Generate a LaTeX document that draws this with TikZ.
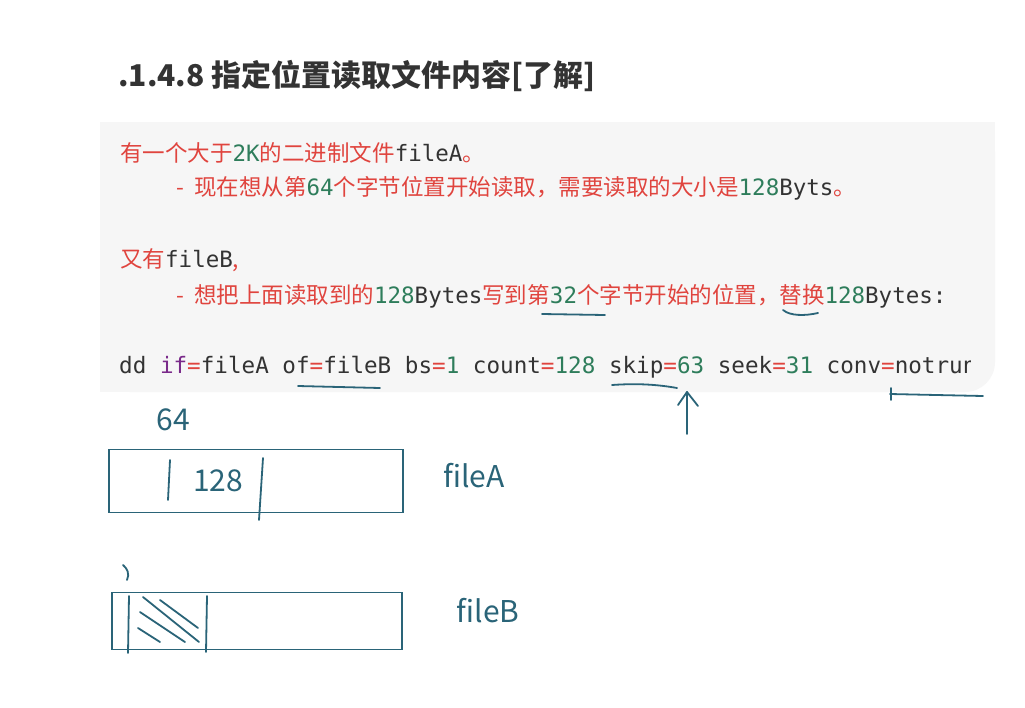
\documentclass[tikz,border=0pt]{standalone}
\usepackage{fontspec}
\setmainfont{Noto Sans CJK SC}
\newfontfamily\cjk{Noto Sans CJK SC}
\newfontfamily\mono{DejaVu Sans Mono}
\definecolor{rd}{HTML}{E0443E}
\definecolor{gn}{HTML}{2E7D5B}
\definecolor{pu}{HTML}{7A2A8A}
\definecolor{tx}{HTML}{333333}
\definecolor{ink}{HTML}{2A6478}
\definecolor{bg}{HTML}{F6F6F6}
\newcommand{\R}[1]{\textcolor{rd}{\cjk #1}}
\newcommand{\G}[1]{\textcolor{gn}{\mono #1}}
\newcommand{\M}[1]{\textcolor{tx}{\mono #1}}
\tikzset{ink/.style={draw=ink,line width=1.8pt,line cap=round,line join=round},
 lbl/.style={anchor=west,inner sep=0pt,font=\fontsize{22.5}{22.5}\selectfont},
 hand/.style={text=ink,inner sep=0pt,font=\fontsize{30}{30}\selectfont\itshape}}
\begin{document}
\begin{tikzpicture}[x=1pt,y=-1pt]
\useasboundingbox (0,0) rectangle (1025,707);
\fill[white] (0,0) rectangle (1025,707);
\node[anchor=west,inner sep=0pt,text=tx,font=\fontsize{30}{30}\selectfont\bfseries] (title) at (118,76) {.1.4.8 指定位置读取文件内容[了解]};
\fill[bg,rounded corners=30pt] (100,122) rectangle (995,392);
\fill[bg] (100,122) rectangle (995,200);
\fill[bg] (100,122) rectangle (130,392);
\begin{scope}
\clip (100,122) rectangle (970,400);
\node[lbl] (l1) at (120,153) {\R{有一个大于}\G{2K}\R{的二进制文件}\M{fileA}\R{。}};
\node[lbl] (l2) at (176,188) {\R{-\ \ 现在想从第}\G{64}\R{个字节位置开始读取，需要读取的大小是}\G{128}\M{Byts}\R{。}};
\node[lbl] (l3) at (120,260) {\R{又有}\M{fileB}\R{,}};
\node[lbl] (l4) at (176,296) {\R{-\ \ 想把上面读取到的}\G{128}\M{Bytes}\R{写到第}\G{32}\R{个字节开始的位置，替换}\G{128}\M{Bytes:}};
\node[lbl,font=\fontsize{22.6}{22.6}\selectfont] (cmd) at (119,367) {\M{dd }\textcolor{pu}{\mono if}\textcolor{rd}{\mono =}\M{fileA of}\textcolor{rd}{\mono =}\M{fileB bs}\textcolor{rd}{\mono =}\G{1}\M{ count}\textcolor{rd}{\mono =}\G{128}\M{ skip}\textcolor{rd}{\mono =}\G{63}\M{ seek}\textcolor{rd}{\mono =}\G{31}\M{ conv}\textcolor{rd}{\mono =}\M{notrunc}};
\end{scope}
% underlines
\draw[ink] (542,314) -- (605,315);
\draw[ink] (783,310) .. controls (790,316) and (805,316) .. (818,313);
\draw[ink] (298,386) -- (380,388);
\draw[ink] (612,385) .. controls (640,383) and (660,385) .. (677,388);
\coordinate (ah) at (687,392);
\draw[ink] (687,434) -- (ah);
\draw[ink] (678,405) -- (ah) -- (698,406);
\coordinate (le) at (890,394);
\draw[ink] (983,396) -- (le);
\draw[ink] (891,388) -- (891,400);
% fileA
\node[hand] (n64) at (173,420) {64};
\node[draw=ink,line width=1.2pt,minimum width=294pt,minimum height=63pt,inner sep=0pt] (fa) at (256,481) {};
\draw[ink] (170,460) -- (168,500);
\draw[ink] (263,458) -- (259,520);
\node[hand] (n128) at (218,481) {128};
\node[hand] (la) at (474,476) {fileA};
% fileB
\node[draw=ink,line width=1.2pt,minimum width=290pt,minimum height=57pt,inner sep=0pt] (fb) at (257,621) {};
\draw[ink] (129,596) -- (128,653);
\draw[ink] (207,596) -- (206,652);
\draw[ink] (123,565) .. controls (127,568) and (130,574) .. (127,580);
\draw[ink] (143,597) -- (199,642);
\draw[ink] (140,612) -- (185,642);
\draw[ink] (138,628) -- (160,642);
\draw[ink] (160,600) -- (198,628);
\node[hand] (lb) at (488,611) {fileB};
\end{tikzpicture}
\end{document}
